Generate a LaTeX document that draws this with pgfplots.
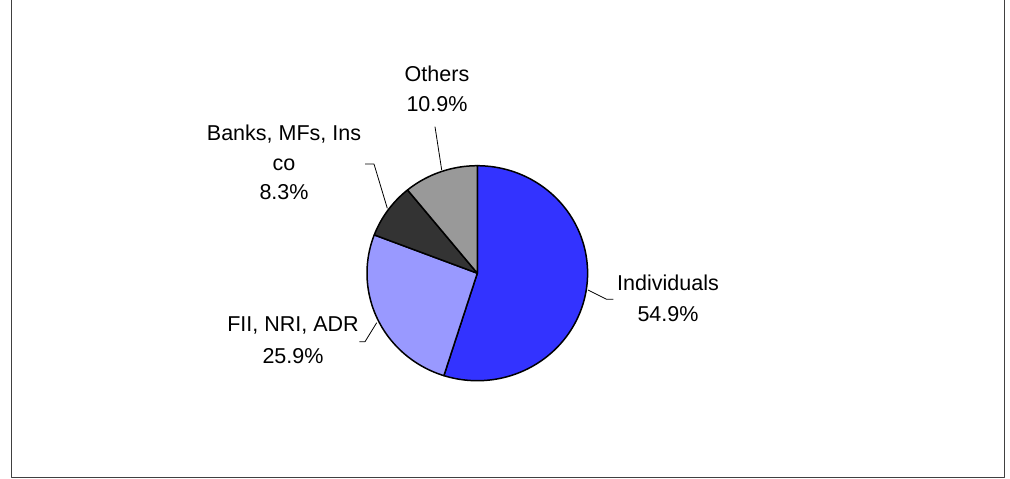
\documentclass[border=0pt]{standalone}
\usepackage{fontspec}
\setmainfont{Liberation Sans}
\usepackage{pgfplots}
\pgfplotsset{compat=1.18}

% shareholding pattern (per cent)
\def\vInd{54.9}
\def\vFii{25.9}
\def\vBank{8.3}
\def\vOth{10.9}

\definecolor{cInd}{HTML}{3333FF}
\definecolor{cFii}{HTML}{9999FF}
\definecolor{cBank}{HTML}{333333}
\definecolor{cOth}{HTML}{999999}

\tikzset{lab/.style={anchor=base, inner sep=0pt, font=\fontsize{10.75}{13}\selectfont}}

\begin{document}
\begin{tikzpicture}
% slice boundaries, clockwise from twelve o'clock (y axis points down)
\pgfmathsetmacro\aA{-90}
\pgfmathsetmacro\aB{\aA+3.6*\vInd}
\pgfmathsetmacro\aC{\aB+3.6*\vFii}
\pgfmathsetmacro\aD{\aC+3.6*\vBank}
\pgfmathsetmacro\aE{\aD+3.6*\vOth}
\def\cx{477.3}
\def\cy{273.2}
\def\rx{110.3}
\def\ry{107.5}
\path[use as bounding box] (0,0) rectangle (505pt,239pt);
\begin{axis}[
  at={(0,0)}, anchor=south west,
  width=505pt, height=239pt, scale only axis,
  xmin=0, xmax=1010, ymin=0, ymax=478, y dir=reverse,
  hide axis, clip=false,
  every axis plot/.append style={line join=round},
]
% chart area frame
\addplot[draw=black!75, line width=0.5pt, mark=none] coordinates {(11,0) (11,477.3) (1004,477.3) (1004,0)};

% slices
\addplot[fill=cInd, draw=black, line width=0.75pt, domain=\aA:\aB, samples=120, variable=\t]
  ({\cx+\rx*cos(\t)},{\cy+\ry*sin(\t)}) -- (\cx,\cy) -- cycle;
\addplot[fill=cFii, draw=black, line width=0.75pt, domain=\aB:\aC, samples=80, variable=\t]
  ({\cx+\rx*cos(\t)},{\cy+\ry*sin(\t)}) -- (\cx,\cy) -- cycle;
\addplot[fill=cBank, draw=black, line width=0.75pt, domain=\aC:\aD, samples=40, variable=\t]
  ({\cx+\rx*cos(\t)},{\cy+\ry*sin(\t)}) -- (\cx,\cy) -- cycle;
\addplot[fill=cOth, draw=black, line width=0.75pt, domain=\aD:\aE, samples=40, variable=\t]
  ({\cx+\rx*cos(\t)},{\cy+\ry*sin(\t)}) -- (\cx,\cy) -- cycle;

% leader lines
\addplot[black, line width=0.4pt, mark=none] coordinates {(588,290) (606.7,299.3) (613.3,299.3)};
\addplot[black, line width=0.4pt, mark=none] coordinates {(376.7,322.7) (365,341.7) (359.3,341.7)};
\addplot[black, line width=0.4pt, mark=none] coordinates {(387.3,208.3) (374,164) (365,164)};
\addplot[black, line width=0.4pt, mark=none] coordinates {(441.7,170) (435,126.7)};

% data labels
\node[lab] at (axis cs:668,290.7) {Individuals};
\node[lab] at (axis cs:668,321.7) {\vInd\%};
\node[lab] at (axis cs:293,331.7) {FII, NRI, ADR};
\node[lab] at (axis cs:293,363.3) {\vFii\%};
\node[lab] at (axis cs:284,140) {Banks, MFs, Ins};
\node[lab] at (axis cs:284,170) {co};
\node[lab] at (axis cs:284,199.3) {\vBank\%};
\node[lab] at (axis cs:437,81.7) {Others};
\node[lab] at (axis cs:437,111.7) {\vOth\%};
\end{axis}
\end{tikzpicture}
\end{document}
